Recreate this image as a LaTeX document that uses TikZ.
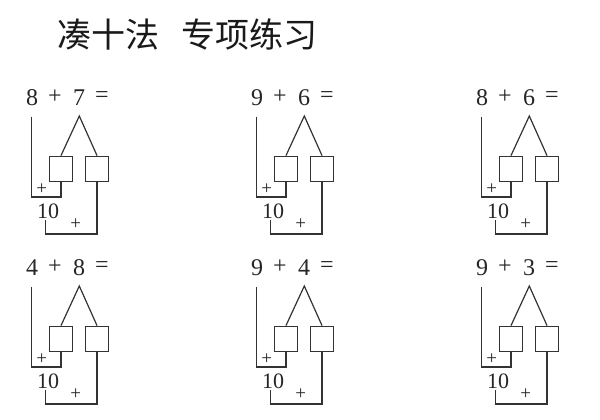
\documentclass[tikz,border=0pt]{standalone}
\usepackage{fontspec}
\setmainfont{Liberation Serif}
\newfontfamily\cjk{Noto Sans CJK SC}
\newcommand{\mygrp}[5]{%
  \begin{scope}[shift={(#1,#2)}]
    \node[num] (#5a) at (32,98) {#3};
    \node[num] (#5p) at (55,97) {+};
    \node[num] (#5b) at (79,98) {#4};
    \node[num] (#5e) at (102,97) {=};
    \node[box] (#5x) at (61,169) {};
    \node[box] (#5y) at (97,169) {};
    \node[small] (#5sp) at (41.7,189) {+};
    \node[ten] (#5t) at (48,211) {10};
    \node[small] (#5bp) at (75.7,224) {+};
    \coordinate (#5top) at (31.7,116.5);
    \coordinate (#5bl) at (31.7,197);
    \coordinate (#5apex) at (79.3,116);
    \coordinate (#5ts) at (45.7,220);
    \coordinate (#5br) at (45.7,234);
    \draw[ln] (#5top) -- (#5bl) -| (#5x.south);
    \draw[ln] (#5x.north) -- (#5apex) -- (#5y.north);
    \draw[ln] (#5ts) -- (#5br) -| (#5y.south);
  \end{scope}}
\begin{document}
\begin{tikzpicture}[x=1pt,y=-1pt,
  num/.style={inner sep=0pt,font=\fontsize{24}{28}\selectfont,text=black!85},
  ten/.style={inner sep=0pt,font=\fontsize{22}{26}\selectfont,text=black!85},
  small/.style={inner sep=0pt,font=\fontsize{19}{22}\selectfont,text=black!85},
  box/.style={draw=black!80,line width=1.2pt,minimum width=23.5pt,minimum height=25.7pt,inner sep=0pt},
  ln/.style={draw=black!80,line width=1.2pt}]
\useasboundingbox[fill=white] (0,0) rectangle (600,420);
\node[anchor=west,inner sep=0pt,font=\cjk\fontsize{34}{40}\selectfont,text=black!90] (title) at (57,34.5) {凑十法\hspace{22pt}专项练习};
\mygrp{0}{0}{8}{7}{g1}
\mygrp{225}{0}{9}{6}{g2}
\mygrp{450}{0}{8}{6}{g3}
\mygrp{0}{170}{4}{8}{g4}
\mygrp{225}{170}{9}{4}{g5}
\mygrp{450}{170}{9}{3}{g6}
\end{tikzpicture}
\end{document}
